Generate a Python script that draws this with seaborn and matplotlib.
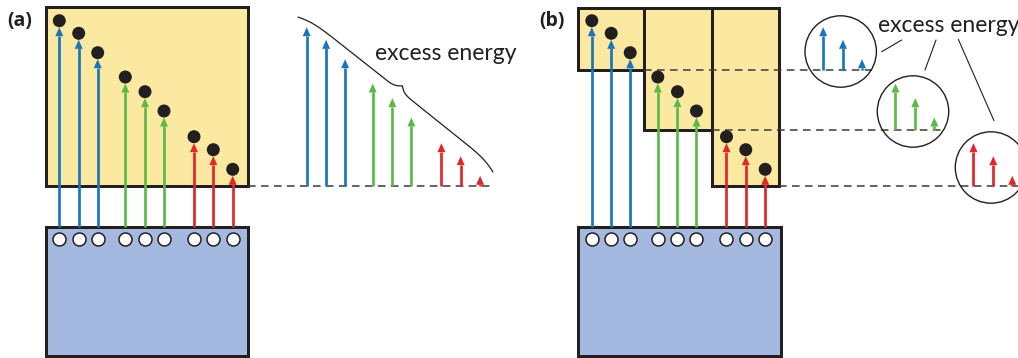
import numpy as np
import pandas as pd
import matplotlib.pyplot as plt
import seaborn as sns
from matplotlib.patches import Rectangle, Circle, Polygon

# =============================
# DATA
# =============================
groups = ["blue", "blue", "blue", "green", "green", "green", "red", "red", "red"]
group_names = ["blue", "green", "red"]
group_colors = {"blue": "#1b75bb", "green": "#5cb947", "red": "#e1262b"}
# excited-state level of each carrier (pixels from top of the figure)
levels = [20.7, 33.3, 52.7, 77.0, 91.7, 111.0, 136.7, 149.7, 169.3]
# conduction band edge: single absorber (a) and one per sub-cell (b)
edge_a = 186.0
edges_b = [70.0, 130.0, 186.0]

# =============================
# LAYOUT
# =============================
W, H = 1018, 358
slot_x = np.array([59.3, 78.7, 97.7, 125.3, 145.0, 164.0, 194.0, 213.3, 232.7])
shift_b = 532.5          # panel (b) relative to panel (a)
shift_excess = 247.4     # excess-energy arrows of panel (a)
inset_cx = [840.7, 913.0, 991.0]
inset_dx = [-17.5, 2.3, 21.3]
inset_r = 35.7
dot_r = 6.5
valence_top = 227.0
hole_y = 239.3

dark = "#231f20"
yellow = "#fce9a1"
bluebox = "#a5b8df"
px = 72 / 100  # points per pixel at dpi 100

sns.set_style("white")
plt.rcParams["font.family"] = ["Lato", "DejaVu Sans"]

fig = plt.figure(figsize=(W / 100, H / 100), dpi=100)
ax = fig.add_axes([0, 0, 1, 1])


def up_arrow(x, y_base, y_tip, color, lw=2.7, hw=8.0, hl=9.0):
    if y_base - y_tip > hl:
        ax.plot([x, x], [y_base, y_tip + hl - 0.5], color=color, lw=lw * px,
                solid_capstyle="butt", zorder=3)
    head_base = min(y_tip + hl, y_base)
    ax.add_patch(Polygon([[x - hw / 2, head_base], [x + hw / 2, head_base], [x, y_tip]],
                         closed=True, facecolor=color, lw=0, zorder=3))


def dashed(x0, x1, y):
    ax.plot([x0, x1], [y, y], color="#3a3a3a", lw=1.1, dashes=(5, 3.5), zorder=2)


def brace(p0, p1, height, beta_end=0.12, beta_mid=0.3, n=400):
    p0, p1 = np.array(p0), np.array(p1)
    d = p1 - p0
    L = np.hypot(*d)
    u = d / L
    nrm = np.array([u[1], -u[0]])  # points up-right
    half = np.linspace(0, L / 2, n // 2)
    yh = 1 / (1 + np.exp(-beta_end * (half - half[0]))) + 1 / (1 + np.exp(-beta_mid * (half - half[-1])))
    s = np.concatenate([half, L - half[-2::-1]])
    h = np.concatenate([yh, yh[-2::-1]])
    h = (h - h[0]) / (h.max() - h[0]) * height
    pts = p0[None, :] + s[:, None] * u[None, :] + h[:, None] * nrm[None, :]
    ax.plot(pts[:, 0], pts[:, 1], color=dark, lw=0.9, zorder=3)


# =============================
# PANEL (a)
# =============================
ax.add_patch(Rectangle((46, 7), 202, edge_a - 7, facecolor=yellow, edgecolor=dark, lw=3 * px, zorder=1))
ax.add_patch(Rectangle((46, valence_top), 202, 129, facecolor=bluebox, edgecolor=dark, lw=3 * px, zorder=1))
dashed(248, 492, edge_a)
for x, lev, g in zip(slot_x, levels, groups):
    up_arrow(x, valence_top, lev + dot_r, group_colors[g])
    up_arrow(x + shift_excess, edge_a, lev + dot_r, group_colors[g])
brace((298, 17), (493, 172), 11)
ax.text(375, 54, "excess energy", fontsize=16.5, color=dark, va="center", ha="left")
ax.text(7, 21, "(a)", fontsize=14, fontweight="bold", color=dark, va="center", ha="left",
        family=["Open Sans", "DejaVu Sans"])

# =============================
# PANEL (b)
# =============================
box_x = [578.3, 644.3, 711.7, 779.3]
for i in range(3):
    ax.add_patch(Rectangle((box_x[i], 8.3), box_x[i + 1] - box_x[i], edges_b[i] - 8.3,
                           facecolor=yellow, edgecolor=dark, lw=3 * px, zorder=1))
ax.add_patch(Rectangle((578.3, valence_top), 202.7, 129, facecolor=bluebox, edgecolor=dark, lw=3 * px, zorder=1))
dash_end = [872, 942, 1018]
for i in range(3):
    dashed(box_x[i + 1], dash_end[i], edges_b[i])

for k, (x, lev, g) in enumerate(zip(slot_x, levels, groups)):
    gi = group_names.index(g)
    up_arrow(x + shift_b, valence_top, lev + dot_r, group_colors[g])
    up_arrow(inset_cx[gi] + inset_dx[k % 3], edges_b[gi], lev + dot_r, group_colors[g])

for gi in range(3):
    ax.add_patch(Circle((inset_cx[gi], edges_b[gi] - 18.5), inset_r, facecolor="none",
                        edgecolor=dark, lw=1.0, zorder=4))

ax.text(878, 25, "excess energy", fontsize=16.5, color=dark, va="center", ha="left")
for (x0, y0), (x1, y1) in [((881.7, 51.7), (901.7, 40)), ((925, 70), (936, 40)), ((958.3, 39.3), (994, 120.7))]:
    ax.plot([x0, x1], [y0, y1], color=dark, lw=0.8, zorder=3)
ax.text(539, 21, "(b)", fontsize=14, fontweight="bold", color=dark, va="center", ha="left",
        family=["Open Sans", "DejaVu Sans"])

# =============================
# CARRIERS (electrons / holes)
# =============================
carriers = pd.DataFrame({
    "x": np.concatenate([slot_x, slot_x + shift_b]),
    "level": levels * 2,
    "group": groups * 2,
})
sns.scatterplot(data=carriers, x="x", y="level", s=(2 * dot_r * px) ** 2, color=dark,
                edgecolor="none", legend=False, ax=ax, zorder=5)
carriers["hole"] = hole_y
sns.scatterplot(data=carriers, x="x", y="hole", s=(2 * dot_r * px) ** 2, color="white",
                edgecolor=dark, linewidth=1.1, legend=False, ax=ax, zorder=5)

ax.set_xlim(0, W)
ax.set_ylim(H, 0)
ax.set_axis_off()
fig.savefig("out.png", dpi=100)
